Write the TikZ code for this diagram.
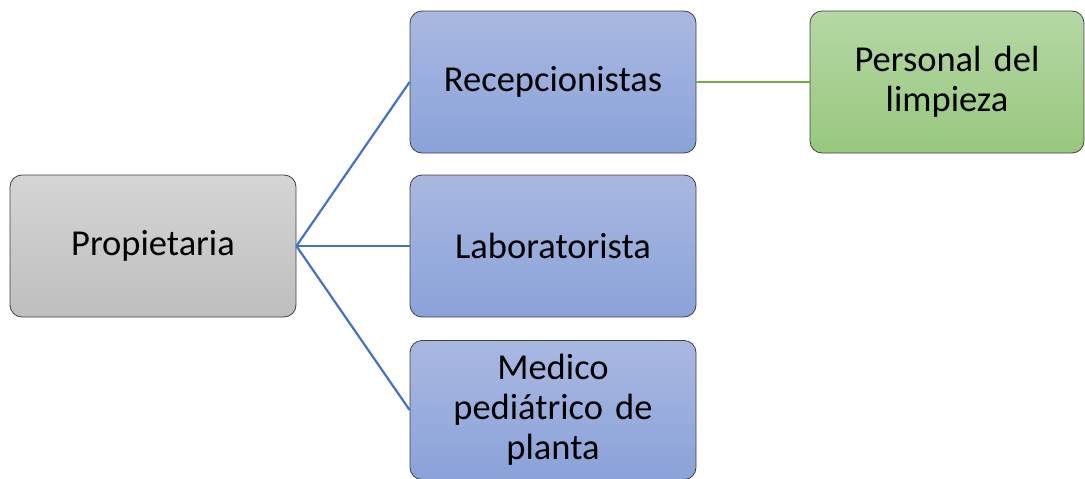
\documentclass[tikz,border=0pt]{standalone}
\usepackage{fontspec}
\setmainfont{Carlito}
\usetikzlibrary{positioning}
\definecolor{grisA}{HTML}{D5D5D5}
\definecolor{grisB}{HTML}{BEBEBE}
\definecolor{azulA}{HTML}{A9B8E1}
\definecolor{azulB}{HTML}{8AA2D9}
\definecolor{verdeA}{HTML}{B5D7A5}
\definecolor{verdeB}{HTML}{97C87D}
\definecolor{lineaazul}{HTML}{4472C4}
\definecolor{lineaverde}{HTML}{70AD47}
\tikzset{caja/.style={draw=black!75,line width=0.8pt,rounded corners=12pt,
    minimum width=286pt,minimum height=142pt,align=center,text width=260pt,
    font=\fontsize{36.5}{40}\selectfont},
  gris/.style={caja,top color=grisA,bottom color=grisB},
  azul/.style={caja,top color=azulA,bottom color=azulB},
  verde/.style={caja,top color=verdeA,bottom color=verdeB},
  conazul/.style={lineaazul,line width=2.2pt},
  converde/.style={lineaverde,line width=2.2pt}}

\begin{document}
\begin{tikzpicture}[x=1pt,y=-1pt]
    \useasboundingbox (0,0) rectangle (1085,479);
    \node[gris] (prop) at (153,246) {Propietaria};
    \node[azul] (recep) at (553,82) {Recepcionistas};
    \node[azul] (lab) at (553,246) {Laboratorista};
    \node[azul,minimum height=139pt] (medico) at (553,410) {Medico\\pediátrico de\\planta};
    \node[verde,minimum width=274pt] (limp) at (947,82) {Personal del\\limpieza};
    \draw[conazul] (prop.east) -- (recep.west);
    \draw[conazul] (prop.east) -- (lab.west);
    \draw[conazul] (prop.east) -- (medico.west);
    \draw[converde] (recep.east) -- (limp.west);
  \end{tikzpicture}
\end{document}
